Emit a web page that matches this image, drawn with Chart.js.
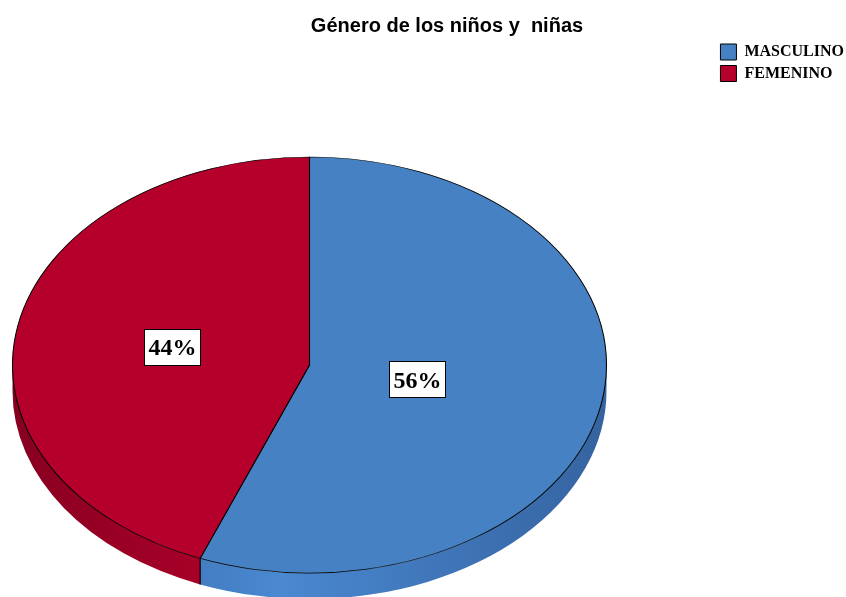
<!DOCTYPE html>
<html>
<head>
<meta charset="utf-8">
<script src="https://cdn.jsdelivr.net/npm/chart.js@4/dist/chart.umd.min.js"></script>
<style>
  html, body { margin: 0; padding: 0; background: #ffffff; overflow: hidden; }
  #wrap { width: 846px; height: 597px; }
</style>
</head>
<body>
<div id="wrap"><canvas id="c" width="846" height="597"></canvas></div>
<script>
// ---- data ----
const categories = ['MASCULINO', 'FEMENINO'];
const percentages = [56, 44];
const chartTitle = 'Género de los niños y  niñas';

// ---- styles ----
const topColors = ['#4682C3', '#B5002B'];
const sideDark = ['#3563A0', '#870020'];
const sideLight = ['#4A88D0', '#B5002B'];

const pie3d = {
  id: 'pie3d',
  beforeDatasetsDraw(chart, args, o) {
    const ctx = chart.ctx;
    const meta = chart.getDatasetMeta(0);
    if (!meta.data.length) return;
    const arc0 = meta.data[0];
    const R = arc0.outerRadius;
    const g = { cx: o.cx, cy: o.cy, rx: o.rx, ry: o.ry, depth: o.depth };
    const ranges = [[0, Math.PI], [2 * Math.PI, 3 * Math.PI], [-2 * Math.PI, -Math.PI]];
    meta.data.forEach((arc, i) => {
      const a0 = arc.startAngle, a1 = arc.endAngle;
      for (const [lo, hi] of ranges) {
        const s = Math.max(a0, lo), e = Math.min(a1, hi);
        if (e <= s) continue;
        ctx.save();
        ctx.beginPath();
        ctx.ellipse(g.cx, g.cy, g.rx, g.ry, 0, s, e, false);
        ctx.ellipse(g.cx, g.cy + g.depth, g.rx, g.ry, 0, e, s, true);
        ctx.closePath();
        const grad = ctx.createLinearGradient(g.cx - g.rx, 0, g.cx + g.rx, 0);
        grad.addColorStop(0, sideDark[i]);
        grad.addColorStop(0.45, sideLight[i]);
        grad.addColorStop(1, sideDark[i]);
        ctx.fillStyle = grad;
        ctx.fill();
        ctx.restore();
      }
      const t = ((a0 % (2 * Math.PI)) + 2 * Math.PI) % (2 * Math.PI);
      if (t > 0.01 && t < Math.PI - 0.01) {
        const x = g.cx + g.rx * Math.cos(t), y = g.cy + g.ry * Math.sin(t);
        ctx.save();
        ctx.strokeStyle = '#000';
        ctx.lineWidth = 1.2;
        ctx.beginPath();
        ctx.moveTo(x, y);
        ctx.lineTo(x, y + g.depth);
        ctx.stroke();
        ctx.restore();
      }
    });
    // transform circle -> ellipse top face
    ctx.save();
    ctx.translate(g.cx, g.cy);
    ctx.scale(g.rx / R, g.ry / R);
    ctx.translate(-arc0.x, -arc0.y);
  },
  afterDatasetsDraw(chart, args, o) {
    const ctx = chart.ctx;
    ctx.restore();
    const meta = chart.getDatasetMeta(0);
    const vals = chart.data.datasets[0].data;
    const sum = vals.reduce((a, b) => a + b, 0);
    meta.data.forEach((arc, i) => {
      const a = (arc.startAngle + arc.endAngle) / 2;
      const f = o.labelRadius[i];
      const x = o.cx + f * o.rx * Math.cos(a);
      const y = o.cy + f * o.ry * Math.sin(a);
      const txt = Math.round(vals[i] / sum * 100) + '%';
      ctx.save();
      ctx.font = 'bold 24px "Liberation Serif"';
      const w = ctx.measureText(txt).width + 8;
      const h = 36;
      ctx.fillStyle = '#fff';
      ctx.fillRect(Math.round(x - w / 2) + 0.5, Math.round(y - h / 2) + 0.5, Math.round(w), h);
      ctx.strokeStyle = '#000';
      ctx.lineWidth = 1;
      ctx.strokeRect(Math.round(x - w / 2) + 0.5, Math.round(y - h / 2) + 0.5, Math.round(w), h);
      ctx.fillStyle = '#000';
      ctx.textAlign = 'center';
      ctx.textBaseline = 'middle';
      ctx.fillText(txt, x, y + 2);
      ctx.restore();
    });
  }
};

new Chart(document.getElementById('c'), {
  type: 'pie',
  data: {
    labels: categories,
    datasets: [{
      data: percentages,
      backgroundColor: topColors,
      borderColor: '#000',
      borderWidth: 1,
      clip: false
    }]
  },
  plugins: [pie3d],
  options: {
    responsive: false,
    animation: false,
    events: [],
    layout: { padding: { left: 40, right: -8, top: 0, bottom: 0 } },
    plugins: {
      pie3d: { cx: 309.5, cy: 365, rx: 297, ry: 208, depth: 26, labelRadius: [0.37, 0.47] },
      title: {
        display: true,
        text: chartTitle,
        color: '#000',
        font: { family: '"Liberation Sans", Arial, sans-serif', size: 20, weight: 'bold' },
        padding: { top: 14, bottom: 0 }
      },
      legend: {
        display: true,
        position: 'right',
        align: 'start',
        title: { display: true, text: '', font: { size: 10 }, padding: { top: 26.5, bottom: 0 } },
        labels: {
          color: '#000',
          boxWidth: 16,
          boxHeight: 16,
          padding: 5.5,
          font: { family: '"Liberation Serif", "Times New Roman", serif', size: 16, weight: 'bold' }
        }
      },
      tooltip: { enabled: false }
    }
  }
});
</script>
</body>
</html>
